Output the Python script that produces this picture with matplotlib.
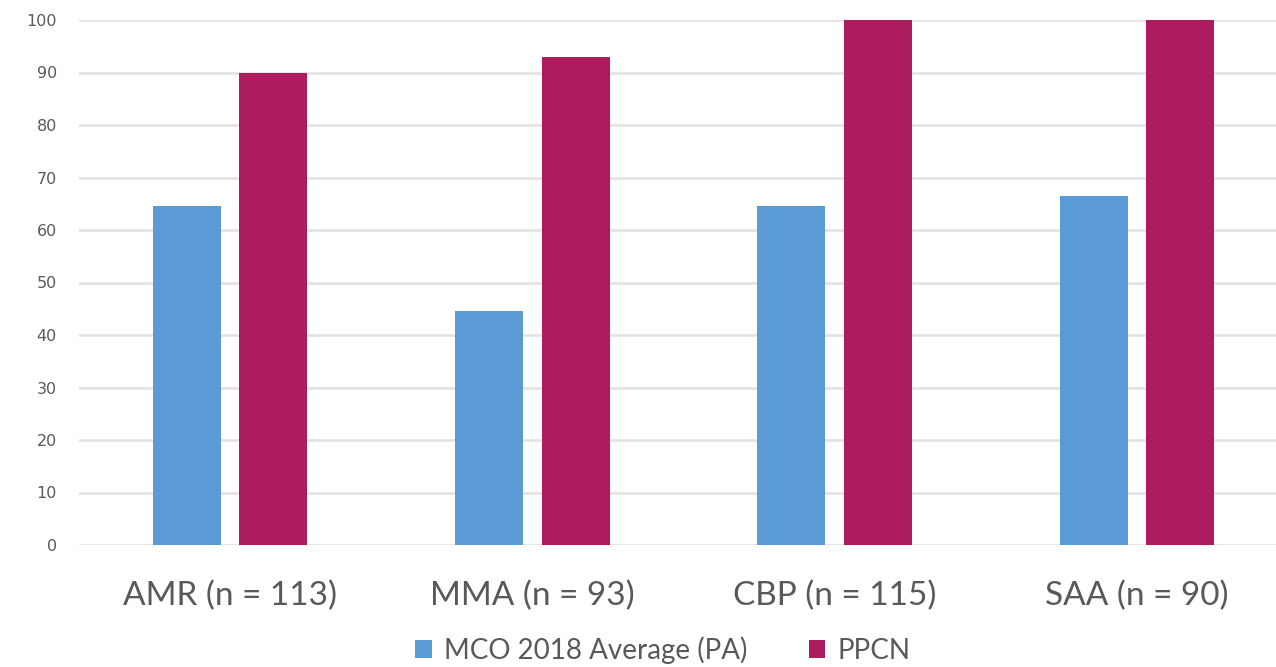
import numpy as np
import matplotlib
matplotlib.use("Agg")
import matplotlib.pyplot as plt

categories = ["AMR (n = 113)", "MMA (n = 93)", "CBP (n = 115)", "SAA (n = 90)"]
mco_avg = [64.5, 44.5, 64.5, 66.5]
ppcn = [90, 93, 100, 100]
series_names = ["MCO 2018 Average (PA)", "PPCN"]

blue = "#5B9BD5"
magenta = "#AE1C60"
grey = "#595959"

fig = plt.figure(figsize=(12.76, 6.67), dpi=100)
ax = fig.add_axes([79 / 1276, 122 / 667, 1209 / 1276, 525 / 667])

x = np.arange(len(categories))
w = 0.225
ax.bar(x - 0.143, mco_avg, w, color=blue, label=series_names[0], zorder=3)
ax.bar(x + 0.143, ppcn, w, color=magenta, label=series_names[1], zorder=3)

ax.set_xlim(-0.5, 3.5)
ax.set_ylim(0, 100)
ax.set_yticks(np.arange(0, 101, 10))
ax.yaxis.grid(True, color="#E3E3E3", linewidth=2, zorder=0)
ax.set_axisbelow(True)
for s in ax.spines.values():
    s.set_visible(False)
ax.tick_params(axis="both", length=0)
ax.tick_params(axis="y", labelsize=11.5, labelcolor=grey, pad=16)
ax.set_xticks(x)
ax.set_xticklabels(categories, fontsize=24, color=grey, family="Lato")
ax.tick_params(axis="x", pad=26)

leg = fig.legend(loc="center", bbox_to_anchor=(663 / 1276, 1 - 650 / 667),
                 ncol=2, frameon=False, handlelength=0.6, handleheight=0.6,
                 columnspacing=2.2, handletextpad=0.45,
                 prop={"family": "Lato", "size": 20})
for t in leg.get_texts():
    t.set_color(grey)

fig.savefig("out.png", dpi=100)
